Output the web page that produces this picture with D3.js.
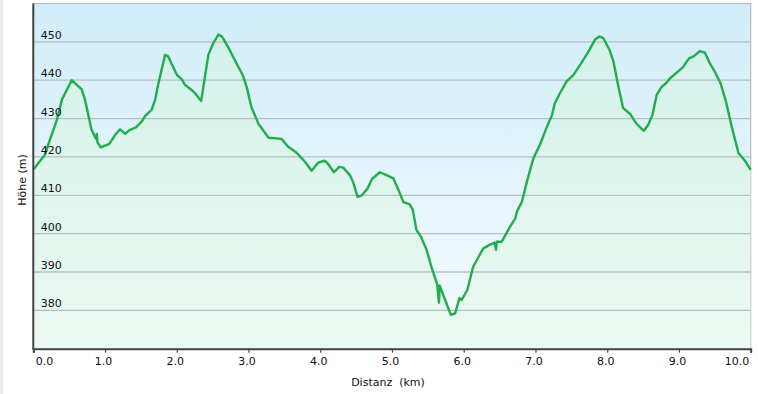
<!DOCTYPE html>
<html>
<head>
<meta charset="utf-8">
<script src="https://cdn.jsdelivr.net/npm/d3@7"></script>
<style>
  html, body { margin: 0; padding: 0; background: #fff; }
  svg { display: block; font-family: "DejaVu Sans", Verdana, sans-serif; }
</style>
</head>
<body>
<svg id="profile" width="758" height="394"></svg>
<script>
// distance along the track (km) and elevation (m)
var distKm = [0.00, 0.16, 0.23, 0.33, 0.40, 0.535, 0.675, 0.72, 0.81, 0.87, 0.885, 0.895,
  0.94, 1.06, 1.14, 1.21, 1.28, 1.34, 1.43, 1.51, 1.56, 1.65, 1.70, 1.74, 1.836, 1.88,
  2.00, 2.07, 2.115, 2.21, 2.25, 2.34, 2.44, 2.51, 2.58, 2.63, 2.72, 2.81, 2.92, 2.975,
  3.04, 3.14, 3.28, 3.46, 3.55, 3.67, 3.74, 3.80, 3.88, 3.97, 4.06, 4.10, 4.19, 4.265,
  4.32, 4.415, 4.46, 4.52, 4.58, 4.66, 4.72, 4.83, 4.93, 5.02, 5.09, 5.16, 5.25, 5.29,
  5.34, 5.40, 5.48, 5.55, 5.63, 5.655, 5.665, 5.715, 5.82, 5.88, 5.94, 5.97, 6.05, 6.13,
  6.18, 6.27, 6.37, 6.43, 6.45, 6.46, 6.53, 6.645, 6.72, 6.74, 6.81, 6.88, 6.97, 7.06,
  7.16, 7.23, 7.27, 7.34, 7.435, 7.53, 7.64, 7.74, 7.83, 7.89, 7.945, 8.03, 8.085, 8.155,
  8.22, 8.32, 8.36, 8.41, 8.51, 8.57, 8.63, 8.69, 8.76, 8.82, 8.875, 8.97, 9.06, 9.14,
  9.21, 9.29, 9.36, 9.42, 9.50, 9.58, 9.656, 9.735, 9.83, 9.92, 10.00];
var elevM = [416.7, 420.5, 424.4, 429.7, 435.0, 440.0, 437.6, 435.0, 427.2, 424.8, 426.0, 423.8,
  422.5, 423.4, 425.7, 427.2, 426.0, 427.0, 427.7, 429.2, 430.7, 432.3, 435.0, 438.8, 446.6, 446.2,
  441.4, 440.2, 438.8, 437.4, 436.7, 434.6, 446.6, 449.7, 451.9, 451.4, 448.5, 445.2, 441.3, 438.2,
  433.0, 428.6, 425.0, 424.7, 422.7, 421.1, 419.7, 418.4, 416.4, 418.5, 419.0, 418.4, 416.0, 417.4,
  417.2, 415.2, 413.3, 409.6, 410.0, 411.8, 414.2, 416.0, 415.2, 414.4, 411.4, 408.2, 407.6, 406.2,
  401.0, 399.3, 395.9, 391.3, 386.8, 382.0, 386.5, 384.0, 378.8, 379.2, 383.2, 382.7, 385.3, 391.3,
  393.0, 396.1, 397.2, 397.6, 395.8, 397.9, 397.9, 401.8, 404.0, 405.7, 408.3, 413.5, 419.6, 423.1,
  427.9, 430.9, 434.0, 436.6, 439.7, 441.4, 444.5, 447.5, 450.6, 451.4, 451.0, 448.0, 445.0, 438.4,
  432.8, 431.2, 430.0, 428.6, 426.8, 428.3, 430.9, 436.2, 438.3, 439.2, 440.5, 442.0, 443.5, 445.7,
  446.3, 447.6, 447.2, 444.8, 442.2, 439.2, 434.4, 427.9, 421.0, 419.0, 416.6];

var xTicks = [0, 1, 2, 3, 4, 5, 6, 7, 8, 9, 10];
var yTicks = [380, 390, 400, 410, 420, 430, 440, 450];

var chart = { left: 33.3, right: 750.7, top: 3.5, bottom: 348.7 };

var svg = d3.select("#profile");

var x = d3.scaleLinear().domain([0, 10]).range([chart.left, chart.right]);
var y = d3.scaleLinear().domain([370, 460]).range([chart.bottom, chart.top]);

var points = distKm.map(function(d, i) { return { km: d, m: elevM[i] }; });

// page edge strip on the left
svg.append("rect").attr("x", 0).attr("y", 0).attr("width", 3).attr("height", 394)
  .attr("fill", "#ebebeb");

var defs = svg.append("defs");
var bg = defs.append("linearGradient").attr("id", "bg")
  .attr("x1", 0).attr("y1", 0).attr("x2", 0).attr("y2", 1);
bg.append("stop").attr("offset", "0%").attr("stop-color", "#d0edf9");
bg.append("stop").attr("offset", "100%").attr("stop-color", "#f5fbfd");

var fillGrad = defs.append("linearGradient").attr("id", "fillGrad")
  .attr("gradientUnits", "userSpaceOnUse")
  .attr("x1", 0).attr("y1", chart.top).attr("x2", 0).attr("y2", chart.bottom);
fillGrad.append("stop").attr("offset", "0%").attr("stop-color", "#d2f2e4").attr("stop-opacity", 0.75);
fillGrad.append("stop").attr("offset", "100%").attr("stop-color", "#e6f9ec").attr("stop-opacity", 0.7);

svg.append("rect")
  .attr("x", chart.left).attr("y", chart.top)
  .attr("width", chart.right - chart.left).attr("height", chart.bottom - chart.top)
  .attr("fill", "url(#bg)")
  .attr("stroke", "#bdbdbd").attr("stroke-width", 1.2);

var area = d3.area()
  .x(function(d) { return x(d.km); })
  .y0(y(370))
  .y1(function(d) { return y(d.m); });

svg.append("path").datum(points)
  .attr("d", area)
  .attr("fill", "url(#fillGrad)");

// horizontal grid
svg.append("g").selectAll("line")
  .data(yTicks).enter().append("line")
  .attr("x1", chart.left).attr("x2", chart.right)
  .attr("y1", function(d) { return y(d); })
  .attr("y2", function(d) { return y(d); })
  .attr("stroke", "#b4c0c4").attr("stroke-width", 1.3);

var line = d3.line()
  .x(function(d) { return x(d.km); })
  .y(function(d) { return y(d.m); });

svg.append("path").datum(points)
  .attr("d", line)
  .attr("fill", "none")
  .attr("stroke", "#22ad4b")
  .attr("stroke-width", 2.4)
  .attr("stroke-linejoin", "round");

// y labels sit inside the plot, just above each grid line
svg.append("g").selectAll("text")
  .data(yTicks).enter().append("text")
  .attr("x", chart.left + 7.5)
  .attr("y", function(d) { return y(d) - 3; })
  .attr("font-size", 11)
  .attr("fill", "#111")
  .text(function(d) { return d; });

// axes
var xAxis = d3.axisBottom(x).tickValues(xTicks).tickSize(4).tickFormat(d3.format(".1f"));
var gx = svg.append("g").attr("transform", "translate(0," + chart.bottom + ")").call(xAxis);
gx.select(".domain").attr("stroke", "#444").attr("stroke-width", 2);
gx.selectAll(".tick line").attr("stroke", "#444").attr("stroke-width", 1.2);
gx.selectAll(".tick text")
  .attr("font-size", 11)
  .attr("font-family", "DejaVu Sans, Verdana, sans-serif")
  .attr("fill", "#111")
  .attr("y", 9)
  .attr("dx", function(d) { return d === 0 ? 0 : -2; })
  .attr("text-anchor", function(d) { return d === 0 ? "start" : (d === 10 ? "end" : "middle"); })
  .attr("x", function(d) { return d === 0 ? 2 : 0; });

svg.append("line")
  .attr("x1", chart.left).attr("x2", chart.left)
  .attr("y1", chart.top).attr("y2", chart.bottom + 1)
  .attr("stroke", "#444").attr("stroke-width", 2);

svg.append("text")
  .attr("transform", "translate(26,180) rotate(-90)")
  .attr("text-anchor", "middle")
  .attr("font-size", 11)
  .attr("fill", "#111")
  .text("Höhe (m)");

svg.append("text")
  .attr("x", 388).attr("y", 385.5)
  .attr("text-anchor", "middle")
  .attr("font-size", 11)
  .attr("fill", "#111")
  .attr("xml:space", "preserve")
  .style("white-space", "pre")
  .text("Distanz  (km)");
</script>
</body>
</html>
